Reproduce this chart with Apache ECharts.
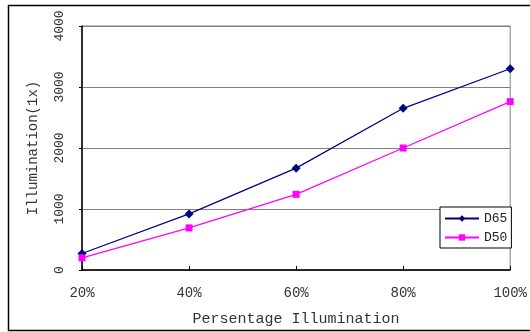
<!DOCTYPE html>
<html>
<head>
<meta charset="utf-8">
<script src="https://cdn.jsdelivr.net/npm/echarts@6/dist/echarts.min.js"></script>
<style>
  html, body { margin: 0; padding: 0; background: #fff; }
  #main { width: 530px; height: 332px; }
</style>
</head>
<body>
<div id="main"></div>
<script>
var myChart = echarts.init(document.getElementById('main'));

var categories = ['20%', '40%', '60%', '80%', '100%'];
var d65 = [270, 920, 1670, 2650, 3300];
var d50 = [200, 690, 1240, 2000, 2760];

var font = 'Liberation Mono';

var option = {
    backgroundColor: '#fff',
    animation: false,
    graphic: [{
        type: 'rect',
        shape: { x: 8.5, y: 5.5, width: 540, height: 325 },
        style: { fill: 'none', stroke: '#000', lineWidth: 1.5 }
    }],
    grid: {
        left: 82,
        top: 26,
        right: 16,
        bottom: 62,
        show: true,
        borderColor: '#808080',
        borderWidth: 1
    },
    legend: {
        orient: 'vertical',
        left: 440,
        top: 207,
        itemWidth: 34,
        itemHeight: 8,
        itemGap: 6,
        padding: [5, 4, 4, 4],
        borderColor: '#000',
        borderWidth: 1,
        backgroundColor: '#fff',
        textStyle: { fontFamily: font, fontSize: 13, color: '#222' },
        data: ['D65', 'D50']
    },
    xAxis: {
        type: 'category',
        data: categories,
        boundaryGap: false,
        name: 'Persentage Illumination',
        nameLocation: 'middle',
        nameGap: 42,
        nameTextStyle: { fontFamily: font, fontSize: 15, color: '#333' },
        axisLine: { lineStyle: { color: '#000', width: 1.5 } },
        axisTick: { inside: true, length: 4, lineStyle: { color: '#000' } },
        axisLabel: { fontFamily: font, fontSize: 14, color: '#333', margin: 16 },
        splitLine: { show: false }
    },
    yAxis: {
        type: 'value',
        min: 0,
        max: 4000,
        interval: 1000,
        name: 'Illumination(1x)',
        nameLocation: 'middle',
        nameGap: 42,
        nameRotate: 90,
        nameTextStyle: { fontFamily: font, fontSize: 14, color: '#333' },
        axisLine: { show: true, lineStyle: { color: '#000', width: 1.5 } },
        axisTick: { show: true, length: 3, lineStyle: { color: '#000' } },
        axisLabel: {
            fontFamily: font, fontSize: 13, color: '#333', rotate: 90, margin: 16,
            formatter: function (v) { return String(v); }
        },
        splitLine: { lineStyle: { color: '#808080', width: 1 } }
    },
    series: [{
        name: 'D65',
        type: 'line',
        data: d65,
        symbol: 'diamond',
        symbolSize: 9,
        color: '#000080',
        lineStyle: { width: 1.2, color: '#000080' },
        itemStyle: { color: '#000080' }
    }, {
        name: 'D50',
        type: 'line',
        data: d50,
        symbol: 'rect',
        symbolSize: 7,
        color: '#ff00ff',
        lineStyle: { width: 1.2, color: '#ff00ff' },
        itemStyle: { color: '#ff00ff' }
    }]
};

myChart.setOption(option);
</script>
</body>
</html>
